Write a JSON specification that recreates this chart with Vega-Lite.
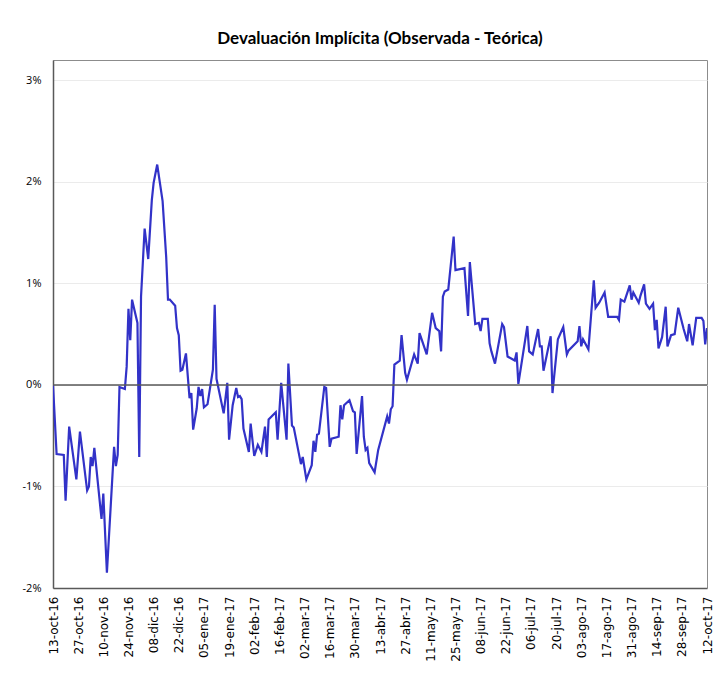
{
  "$schema": "https://vega.github.io/schema/vega-lite/v6.json",
  "width": 654,
  "height": 528,
  "autosize": "none",
  "padding": {"left": 53, "top": 60, "right": 21, "bottom": 93},
  "background": "white",
  "config": {
    "locale": {
      "time": {
        "dateTime": "%x, %X",
        "date": "%d/%m/%Y",
        "time": "%H:%M:%S",
        "periods": ["AM", "PM"],
        "days": ["domingo", "lunes", "martes", "miércoles", "jueves", "viernes", "sábado"],
        "shortDays": ["dom", "lun", "mar", "mié", "jue", "vie", "sáb"],
        "months": ["enero", "febrero", "marzo", "abril", "mayo", "junio", "julio", "agosto", "septiembre", "octubre", "noviembre", "diciembre"],
        "shortMonths": ["ene", "feb", "mar", "abr", "may", "jun", "jul", "ago", "sep", "oct", "nov", "dic"]
      }
    },
    "view": {"stroke": "#8c8c8c", "strokeWidth": 1},
    "title": {"font": "Lato", "fontSize": 17, "fontWeight": "bold", "color": "#000000", "anchor": "middle", "offset": 12}
  },
  "title": "Devaluación Implícita (Observada - Teórica)",
  "data": {
    "values": [
      {"fecha": "2016-10-13", "dev": 0.0},
      {"fecha": "2016-10-15", "dev": -0.68},
      {"fecha": "2016-10-19", "dev": -0.69},
      {"fecha": "2016-10-20", "dev": -1.14},
      {"fecha": "2016-10-22", "dev": -0.41},
      {"fecha": "2016-10-26", "dev": -0.93},
      {"fecha": "2016-10-28", "dev": -0.46},
      {"fecha": "2016-11-01", "dev": -1.04},
      {"fecha": "2016-11-02", "dev": -1.0},
      {"fecha": "2016-11-03", "dev": -0.71},
      {"fecha": "2016-11-04", "dev": -0.8},
      {"fecha": "2016-11-05", "dev": -0.62},
      {"fecha": "2016-11-09", "dev": -1.32},
      {"fecha": "2016-11-10", "dev": -1.07},
      {"fecha": "2016-11-12", "dev": -1.85},
      {"fecha": "2016-11-16", "dev": -0.61},
      {"fecha": "2016-11-17", "dev": -0.8},
      {"fecha": "2016-11-18", "dev": -0.69},
      {"fecha": "2016-11-19", "dev": -0.02},
      {"fecha": "2016-11-22", "dev": -0.04},
      {"fecha": "2016-11-23", "dev": 0.18},
      {"fecha": "2016-11-24", "dev": 0.75},
      {"fecha": "2016-11-25", "dev": 0.44},
      {"fecha": "2016-11-26", "dev": 0.84},
      {"fecha": "2016-11-29", "dev": 0.61},
      {"fecha": "2016-11-30", "dev": -0.71},
      {"fecha": "2016-12-01", "dev": 0.87},
      {"fecha": "2016-12-03", "dev": 1.54},
      {"fecha": "2016-12-05", "dev": 1.24},
      {"fecha": "2016-12-07", "dev": 1.82},
      {"fecha": "2016-12-08", "dev": 1.99},
      {"fecha": "2016-12-10", "dev": 2.17},
      {"fecha": "2016-12-13", "dev": 1.81},
      {"fecha": "2016-12-15", "dev": 1.26},
      {"fecha": "2016-12-16", "dev": 0.84},
      {"fecha": "2016-12-17", "dev": 0.84},
      {"fecha": "2016-12-20", "dev": 0.78},
      {"fecha": "2016-12-21", "dev": 0.56},
      {"fecha": "2016-12-22", "dev": 0.49},
      {"fecha": "2016-12-23", "dev": 0.14},
      {"fecha": "2016-12-24", "dev": 0.15},
      {"fecha": "2016-12-26", "dev": 0.31},
      {"fecha": "2016-12-28", "dev": -0.13},
      {"fecha": "2016-12-29", "dev": -0.08},
      {"fecha": "2016-12-30", "dev": -0.44},
      {"fecha": "2017-01-01", "dev": -0.23},
      {"fecha": "2017-01-02", "dev": -0.02},
      {"fecha": "2017-01-03", "dev": -0.11},
      {"fecha": "2017-01-04", "dev": -0.04},
      {"fecha": "2017-01-05", "dev": -0.22},
      {"fecha": "2017-01-07", "dev": -0.19},
      {"fecha": "2017-01-10", "dev": 0.15},
      {"fecha": "2017-01-11", "dev": 0.79},
      {"fecha": "2017-01-12", "dev": 0.06},
      {"fecha": "2017-01-16", "dev": -0.28},
      {"fecha": "2017-01-18", "dev": 0.02},
      {"fecha": "2017-01-19", "dev": -0.54},
      {"fecha": "2017-01-21", "dev": -0.2},
      {"fecha": "2017-01-23", "dev": -0.03},
      {"fecha": "2017-01-24", "dev": -0.12},
      {"fecha": "2017-01-25", "dev": -0.11},
      {"fecha": "2017-01-26", "dev": -0.14},
      {"fecha": "2017-01-27", "dev": -0.43},
      {"fecha": "2017-01-30", "dev": -0.66},
      {"fecha": "2017-01-31", "dev": -0.38},
      {"fecha": "2017-02-02", "dev": -0.7},
      {"fecha": "2017-02-04", "dev": -0.59},
      {"fecha": "2017-02-06", "dev": -0.66},
      {"fecha": "2017-02-08", "dev": -0.41},
      {"fecha": "2017-02-09", "dev": -0.71},
      {"fecha": "2017-02-10", "dev": -0.34},
      {"fecha": "2017-02-14", "dev": -0.27},
      {"fecha": "2017-02-15", "dev": -0.54},
      {"fecha": "2017-02-17", "dev": 0.02},
      {"fecha": "2017-02-20", "dev": -0.54},
      {"fecha": "2017-02-21", "dev": 0.21},
      {"fecha": "2017-02-23", "dev": -0.4},
      {"fecha": "2017-02-24", "dev": -0.42},
      {"fecha": "2017-02-28", "dev": -0.78},
      {"fecha": "2017-03-01", "dev": -0.71},
      {"fecha": "2017-03-03", "dev": -0.93},
      {"fecha": "2017-03-06", "dev": -0.79},
      {"fecha": "2017-03-07", "dev": -0.55},
      {"fecha": "2017-03-08", "dev": -0.66},
      {"fecha": "2017-03-09", "dev": -0.49},
      {"fecha": "2017-03-10", "dev": -0.48},
      {"fecha": "2017-03-13", "dev": -0.02},
      {"fecha": "2017-03-14", "dev": -0.03},
      {"fecha": "2017-03-16", "dev": -0.61},
      {"fecha": "2017-03-17", "dev": -0.53},
      {"fecha": "2017-03-21", "dev": -0.51},
      {"fecha": "2017-03-22", "dev": -0.2},
      {"fecha": "2017-03-23", "dev": -0.34},
      {"fecha": "2017-03-24", "dev": -0.2},
      {"fecha": "2017-03-27", "dev": -0.15},
      {"fecha": "2017-03-29", "dev": -0.26},
      {"fecha": "2017-03-30", "dev": -0.27},
      {"fecha": "2017-03-31", "dev": -0.68},
      {"fecha": "2017-04-03", "dev": -0.11},
      {"fecha": "2017-04-04", "dev": -0.51},
      {"fecha": "2017-04-05", "dev": -0.64},
      {"fecha": "2017-04-06", "dev": -0.62},
      {"fecha": "2017-04-07", "dev": -0.77},
      {"fecha": "2017-04-10", "dev": -0.86},
      {"fecha": "2017-04-12", "dev": -0.64},
      {"fecha": "2017-04-17", "dev": -0.31},
      {"fecha": "2017-04-18", "dev": -0.38},
      {"fecha": "2017-04-19", "dev": -0.24},
      {"fecha": "2017-04-20", "dev": -0.21},
      {"fecha": "2017-04-21", "dev": 0.2},
      {"fecha": "2017-04-24", "dev": 0.24},
      {"fecha": "2017-04-25", "dev": 0.49},
      {"fecha": "2017-04-27", "dev": 0.12},
      {"fecha": "2017-04-28", "dev": 0.05},
      {"fecha": "2017-05-02", "dev": 0.3},
      {"fecha": "2017-05-04", "dev": 0.21},
      {"fecha": "2017-05-05", "dev": 0.51},
      {"fecha": "2017-05-09", "dev": 0.3},
      {"fecha": "2017-05-12", "dev": 0.71},
      {"fecha": "2017-05-14", "dev": 0.56},
      {"fecha": "2017-05-16", "dev": 0.53},
      {"fecha": "2017-05-17", "dev": 0.33},
      {"fecha": "2017-05-18", "dev": 0.87},
      {"fecha": "2017-05-19", "dev": 0.92},
      {"fecha": "2017-05-21", "dev": 0.94},
      {"fecha": "2017-05-24", "dev": 1.46},
      {"fecha": "2017-05-25", "dev": 1.13},
      {"fecha": "2017-05-30", "dev": 1.15},
      {"fecha": "2017-06-01", "dev": 0.68},
      {"fecha": "2017-06-02", "dev": 1.21},
      {"fecha": "2017-06-05", "dev": 0.6},
      {"fecha": "2017-06-07", "dev": 0.61},
      {"fecha": "2017-06-08", "dev": 0.53},
      {"fecha": "2017-06-09", "dev": 0.65},
      {"fecha": "2017-06-12", "dev": 0.65},
      {"fecha": "2017-06-13", "dev": 0.41},
      {"fecha": "2017-06-14", "dev": 0.33},
      {"fecha": "2017-06-16", "dev": 0.21},
      {"fecha": "2017-06-20", "dev": 0.6},
      {"fecha": "2017-06-21", "dev": 0.57},
      {"fecha": "2017-06-23", "dev": 0.28},
      {"fecha": "2017-06-26", "dev": 0.25},
      {"fecha": "2017-06-27", "dev": 0.24},
      {"fecha": "2017-06-28", "dev": 0.32},
      {"fecha": "2017-06-29", "dev": 0.01},
      {"fecha": "2017-07-04", "dev": 0.58},
      {"fecha": "2017-07-05", "dev": 0.33},
      {"fecha": "2017-07-07", "dev": 0.3},
      {"fecha": "2017-07-10", "dev": 0.55},
      {"fecha": "2017-07-11", "dev": 0.38},
      {"fecha": "2017-07-12", "dev": 0.38},
      {"fecha": "2017-07-13", "dev": 0.14},
      {"fecha": "2017-07-17", "dev": 0.48},
      {"fecha": "2017-07-18", "dev": -0.08},
      {"fecha": "2017-07-21", "dev": 0.45},
      {"fecha": "2017-07-24", "dev": 0.57},
      {"fecha": "2017-07-26", "dev": 0.3},
      {"fecha": "2017-07-27", "dev": 0.34},
      {"fecha": "2017-08-01", "dev": 0.43},
      {"fecha": "2017-08-02", "dev": 0.58},
      {"fecha": "2017-08-03", "dev": 0.38},
      {"fecha": "2017-08-04", "dev": 0.45},
      {"fecha": "2017-08-07", "dev": 0.35},
      {"fecha": "2017-08-10", "dev": 1.03},
      {"fecha": "2017-08-11", "dev": 0.76},
      {"fecha": "2017-08-13", "dev": 0.81},
      {"fecha": "2017-08-16", "dev": 0.91},
      {"fecha": "2017-08-18", "dev": 0.67},
      {"fecha": "2017-08-23", "dev": 0.67},
      {"fecha": "2017-08-24", "dev": 0.64},
      {"fecha": "2017-08-25", "dev": 0.84},
      {"fecha": "2017-08-27", "dev": 0.82},
      {"fecha": "2017-08-30", "dev": 0.98},
      {"fecha": "2017-08-31", "dev": 0.84},
      {"fecha": "2017-09-01", "dev": 0.91},
      {"fecha": "2017-09-04", "dev": 0.81},
      {"fecha": "2017-09-05", "dev": 0.88},
      {"fecha": "2017-09-07", "dev": 0.99},
      {"fecha": "2017-09-08", "dev": 0.8},
      {"fecha": "2017-09-10", "dev": 0.75},
      {"fecha": "2017-09-12", "dev": 0.8},
      {"fecha": "2017-09-13", "dev": 0.54},
      {"fecha": "2017-09-14", "dev": 0.64},
      {"fecha": "2017-09-15", "dev": 0.36},
      {"fecha": "2017-09-17", "dev": 0.47},
      {"fecha": "2017-09-19", "dev": 0.77},
      {"fecha": "2017-09-20", "dev": 0.38},
      {"fecha": "2017-09-22", "dev": 0.49},
      {"fecha": "2017-09-24", "dev": 0.5},
      {"fecha": "2017-09-26", "dev": 0.76},
      {"fecha": "2017-09-29", "dev": 0.55},
      {"fecha": "2017-10-01", "dev": 0.43},
      {"fecha": "2017-10-02", "dev": 0.6},
      {"fecha": "2017-10-04", "dev": 0.39},
      {"fecha": "2017-10-06", "dev": 0.66},
      {"fecha": "2017-10-09", "dev": 0.66},
      {"fecha": "2017-10-10", "dev": 0.63},
      {"fecha": "2017-10-11", "dev": 0.4},
      {"fecha": "2017-10-12", "dev": 0.56}
    ]
  },
  "layer": [
    {
      "mark": {"type": "line", "color": "#3232c8", "strokeWidth": 2.2, "clip": true},
      "encoding": {
        "x": {
          "field": "fecha",
          "type": "temporal",
          "scale": {"domain": ["2016-10-13T00:00:00", "2017-10-12T00:00:00"]},
          "axis": {
            "title": null,
            "format": "%d-%b-%y",
            "labelAngle": -90,
            "labelAlign": "right",
            "labelBaseline": "middle",
            "labelPadding": 8,
            "labelFont": "DejaVu Sans",
            "labelFontSize": 12,
            "labelColor": "#000000",
            "labelOverlap": false,
            "labelFlush": false,
            "ticks": false,
            "grid": false,
            "domainColor": "#595959",
            "domainWidth": 1.5,
            "values": [
              "2016-10-13T00:00:00", "2016-10-27T00:00:00", "2016-11-10T00:00:00", "2016-11-24T00:00:00",
              "2016-12-08T00:00:00", "2016-12-22T00:00:00", "2017-01-05T00:00:00", "2017-01-19T00:00:00",
              "2017-02-02T00:00:00", "2017-02-16T00:00:00", "2017-03-02T00:00:00", "2017-03-16T00:00:00",
              "2017-03-30T00:00:00", "2017-04-13T00:00:00", "2017-04-27T00:00:00", "2017-05-11T00:00:00",
              "2017-05-25T00:00:00", "2017-06-08T00:00:00", "2017-06-22T00:00:00", "2017-07-06T00:00:00",
              "2017-07-20T00:00:00", "2017-08-03T00:00:00", "2017-08-17T00:00:00", "2017-08-31T00:00:00",
              "2017-09-14T00:00:00", "2017-09-28T00:00:00", "2017-10-12T00:00:00"
            ]
          }
        },
        "y": {
          "field": "dev",
          "type": "quantitative",
          "scale": {"domain": [-2, 3.2], "nice": false, "zero": false},
          "axis": {
            "title": null,
            "values": [-2, -1, 0, 1, 2, 3],
            "labelExpr": "datum.value + '%'",
            "labelFont": "Open Sans",
            "labelFontSize": 11,
            "labelColor": "#000000",
            "labelPadding": 12,
            "ticks": false,
            "grid": true,
            "gridColor": "#ebebeb",
            "gridWidth": 1,
            "domainColor": "#595959",
            "domainWidth": 1.5
          }
        }
      }
    },
    {
      "data": {"values": [{"cero": 0}]},
      "mark": {"type": "rule", "color": "#595959", "strokeWidth": 1.5},
      "encoding": {
        "y": {"field": "cero", "type": "quantitative"}
      }
    }
  ]
}
